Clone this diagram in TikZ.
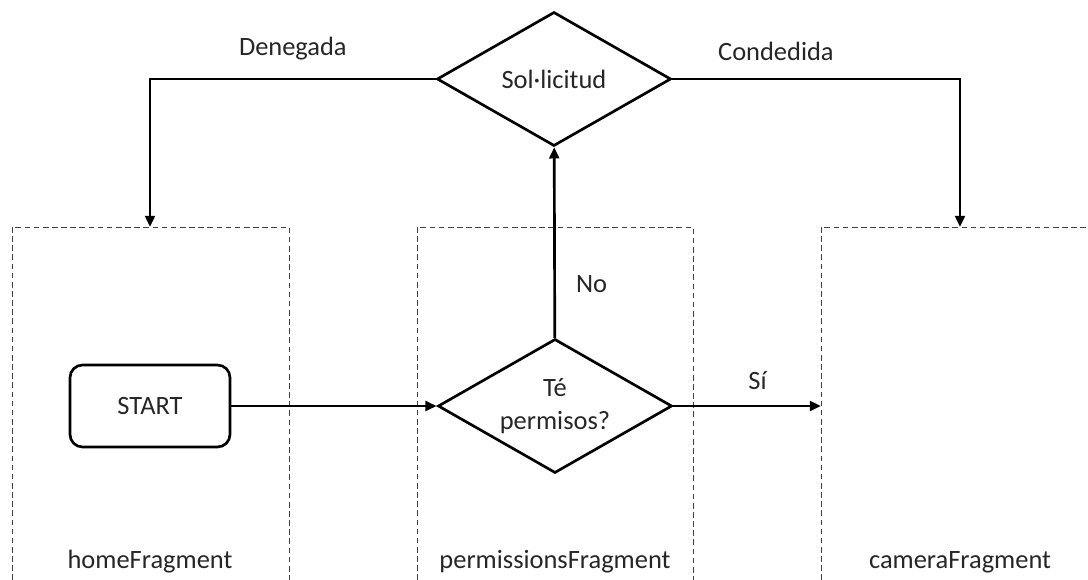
\documentclass[tikz,border=0pt]{standalone}
\usepackage{fontspec}
\setmainfont{Carlito}
\usetikzlibrary{shapes.geometric, arrows.meta, positioning}

\begin{document}
\begin{tikzpicture}[x=0.025cm, y=-0.025cm,
    every node/.style={font=\fontsize{18.8}{23}\selectfont, text=black!85},
    flow/.style={line width=1.9pt, -{Triangle[length=8pt,width=7pt]}},
    fragment/.style={draw=black!75, line width=0.7pt, dash pattern=on 4pt off 2.5pt},
    decision/.style={draw, diamond, shape aspect=1.75, line width=1.9pt, minimum width=5.85cm, minimum height=3.35cm, inner sep=0pt, align=center},
    startbox/.style={draw, rounded corners=9pt, line width=1.9pt, minimum width=4cm, minimum height=2.05cm}]
    \useasboundingbox (0,0) rectangle (1088,580);

    % fragments
    \draw[fragment] (12,580) -- (12,227) -- (289,227) -- (289,580);
    \draw[fragment] (417,580) -- (417,227) -- (693,227) -- (693,580);
    \draw[fragment] (821,580) -- (821,227) -- (1088,227);
    \node (home) at (150,562) {homeFragment};
    \node (perm) at (555,562) {permissionsFragment};
    \node (cam) at (960,562) {cameraFragment};
    \coordinate (hometop) at (150,227);
    \coordinate (camtop) at (960,227);
    \coordinate (camin) at (821,406);

    \node[startbox] (start) at (150,406) {START};
    \node[decision] (check) at (555,406) {Té\\permisos?};
    \node[decision] (request) at (554,79) {Sol·licitud};

    \draw[flow] (start) -- (check);
    \draw[flow] (check) -- node[above=7pt, pos=0.57] {Sí} (camin);
    \draw[flow] (check) -- node[right=11pt, pos=0.28] {No} (request);
    \draw[flow] (request.west) -| node[above=9pt, pos=0.25] {Denegada} (hometop);
    \draw[flow] (request.east) -| node[above=9pt, pos=0.18] {Condedida} (camtop);
\end{tikzpicture}
\end{document}
